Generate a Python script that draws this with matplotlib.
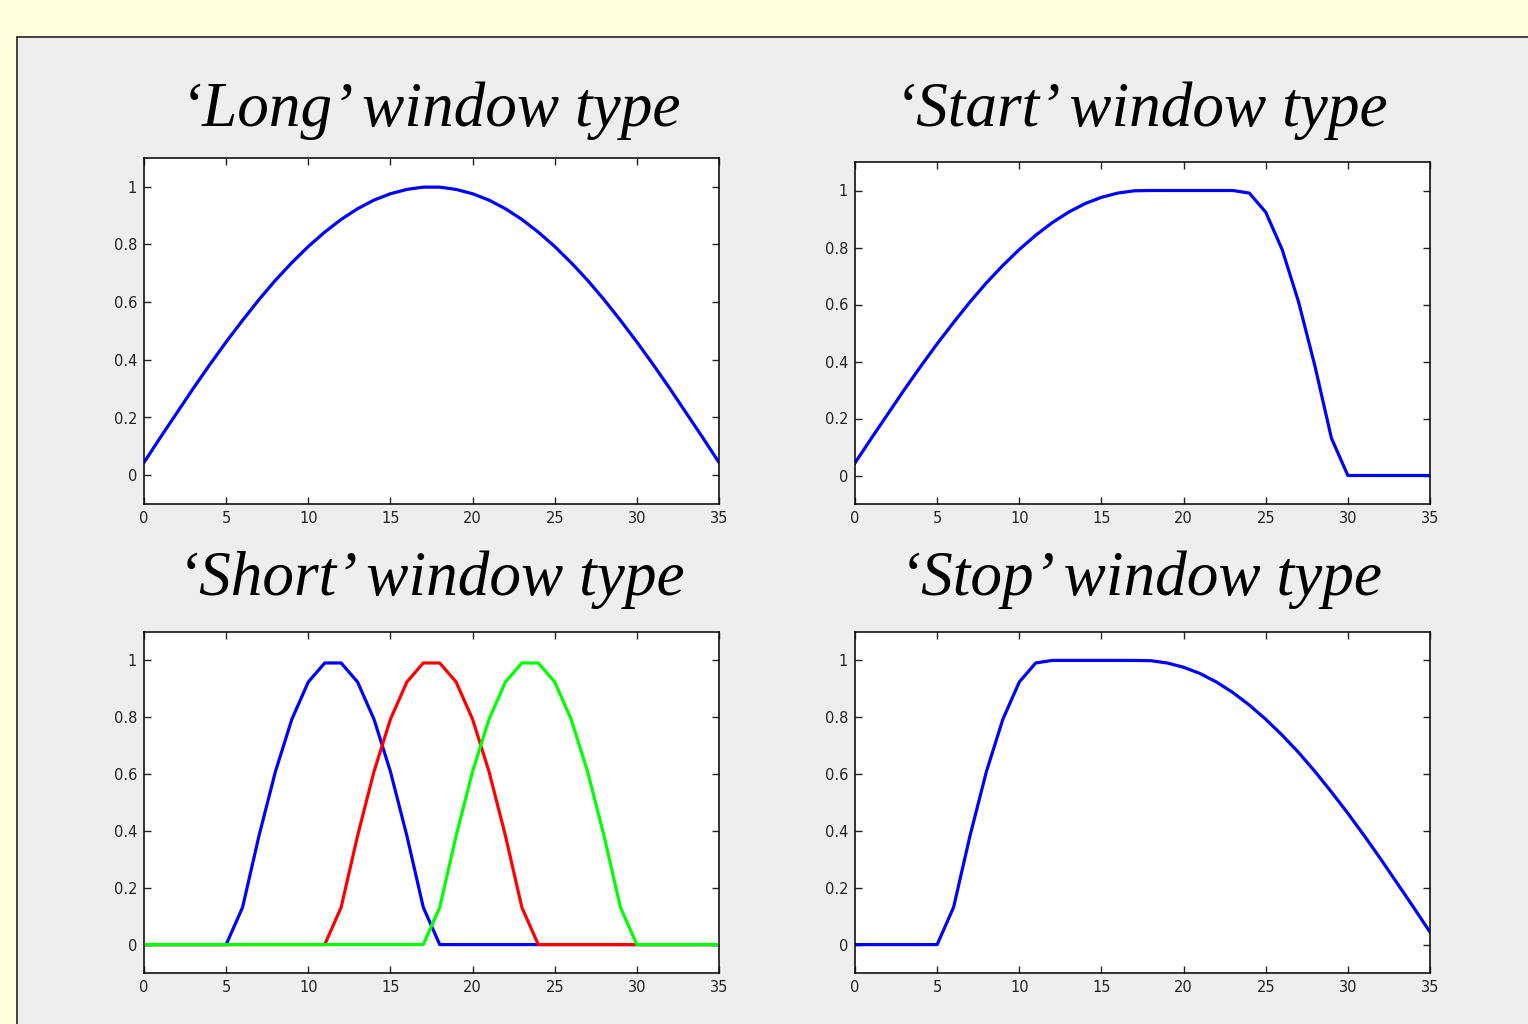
import matplotlib
matplotlib.use('Agg')
import matplotlib.pyplot as plt
from matplotlib.patches import Rectangle

# sample index 0..35
n = list(range(36))

longWin = [0.044, 0.131, 0.216, 0.301, 0.383, 0.462, 0.537, 0.609, 0.676, 0.737,
           0.793, 0.843, 0.887, 0.924, 0.954, 0.976, 0.991, 0.999, 0.999, 0.991,
           0.976, 0.954, 0.924, 0.887, 0.843, 0.793, 0.737, 0.676, 0.609, 0.537,
           0.462, 0.383, 0.301, 0.216, 0.131, 0.044]

startWin = [0.044, 0.131, 0.216, 0.301, 0.383, 0.462, 0.537, 0.609, 0.676, 0.737,
            0.793, 0.843, 0.887, 0.924, 0.954, 0.976, 0.991, 0.999, 1.0, 1.0,
            1.0, 1.0, 1.0, 1.0, 0.991, 0.924, 0.793, 0.609, 0.383, 0.131,
            0.0, 0.0, 0.0, 0.0, 0.0, 0.0]

stopWin = [0.0, 0.0, 0.0, 0.0, 0.0, 0.0, 0.131, 0.383, 0.609, 0.793,
           0.924, 0.991, 1.0, 1.0, 1.0, 1.0, 1.0, 1.0, 0.999, 0.991,
           0.976, 0.954, 0.924, 0.887, 0.843, 0.793, 0.737, 0.676, 0.609, 0.537,
           0.462, 0.383, 0.301, 0.216, 0.131, 0.044]

shortBlue = [0.0, 0.0, 0.0, 0.0, 0.0, 0.0, 0.131, 0.383, 0.609, 0.793,
             0.924, 0.991, 0.991, 0.924, 0.793, 0.609, 0.383, 0.131, 0.0, 0.0,
             0.0, 0.0, 0.0, 0.0, 0.0, 0.0, 0.0, 0.0, 0.0, 0.0,
             0.0, 0.0, 0.0, 0.0, 0.0, 0.0]

shortRed = [0.0, 0.0, 0.0, 0.0, 0.0, 0.0, 0.0, 0.0, 0.0, 0.0,
            0.0, 0.0, 0.131, 0.383, 0.609, 0.793, 0.924, 0.991, 0.991, 0.924,
            0.793, 0.609, 0.383, 0.131, 0.0, 0.0, 0.0, 0.0, 0.0, 0.0,
            0.0, 0.0, 0.0, 0.0, 0.0, 0.0]

shortGreen = [0.0, 0.0, 0.0, 0.0, 0.0, 0.0, 0.0, 0.0, 0.0, 0.0,
              0.0, 0.0, 0.0, 0.0, 0.0, 0.0, 0.0, 0.0, 0.131, 0.383,
              0.609, 0.793, 0.924, 0.991, 0.991, 0.924, 0.793, 0.609, 0.383, 0.131,
              0.0, 0.0, 0.0, 0.0, 0.0, 0.0]

titles = ['\u2018Long\u2019 window type', '\u2018Start\u2019 window type',
          '\u2018Short\u2019 window type', '\u2018Stop\u2019 window type']

xTicks = [0, 5, 10, 15, 20, 25, 30, 35]
yTicks = [0, 0.2, 0.4, 0.6, 0.8, 1]
yTickLabels = ['0', '0.2', '0.4', '0.6', '0.8', '1']

fig = plt.figure(figsize=(15.28, 10.24), dpi=100)
fig.patch.set_facecolor('#ffffdc')

# grey panel behind the plots
panel = Rectangle((17 / 1528, -0.01), 1.0, 1 - 37 / 1024 + 0.01, transform=fig.transFigure,
                  facecolor='#eeeeee', edgecolor='#222222', linewidth=1.2, zorder=-10)
fig.patches.append(panel)

# axes boxes in pixels: left, top, right, bottom
boxes = [(144, 158, 719, 504), (855, 162, 1430, 504),
         (144, 632, 719, 973), (855, 632, 1430, 973)]
titleY = [111, 111, 580, 580]
titleX = [431, 1141, 431, 1141]


def styleAxes(ax):
    ax.set_xlim(0, 35)
    ax.set_ylim(-0.1, 1.1)
    ax.set_xticks(xTicks)
    ax.set_yticks(yTicks)
    ax.set_yticklabels(yTickLabels)
    ax.tick_params(direction='in', length=5, width=1, top=True, right=True,
                   labelsize=10.5, colors='#222222', pad=5)
    for s in ax.spines.values():
        s.set_linewidth(1.2)
        s.set_color('#111111')


axesList = []
for (l, t, r, b) in boxes:
    ax = fig.add_axes([l / 1528, 1 - b / 1024, (r - l) / 1528, (b - t) / 1024])
    ax.set_facecolor('white')
    styleAxes(ax)
    axesList.append(ax)

lw = 2.3
axesList[0].plot(n, longWin, color='#0000ff', linewidth=lw)
axesList[1].plot(n, startWin, color='#0000ff', linewidth=lw)
axesList[2].plot(n, shortBlue, color='#0000ff', linewidth=lw)
axesList[2].plot(n, shortRed, color='#ff0000', linewidth=lw)
axesList[2].plot(n, shortGreen, color='#00ff00', linewidth=lw)
axesList[3].plot(n, stopWin, color='#0000ff', linewidth=lw)

for i in range(4):
    fig.text(titleX[i] / 1528, 1 - titleY[i] / 1024, titles[i], fontsize=45.5,
             family='Liberation Serif', style='italic', ha='center', va='center')

fig.savefig('out.png', dpi=100, facecolor=fig.get_facecolor())
